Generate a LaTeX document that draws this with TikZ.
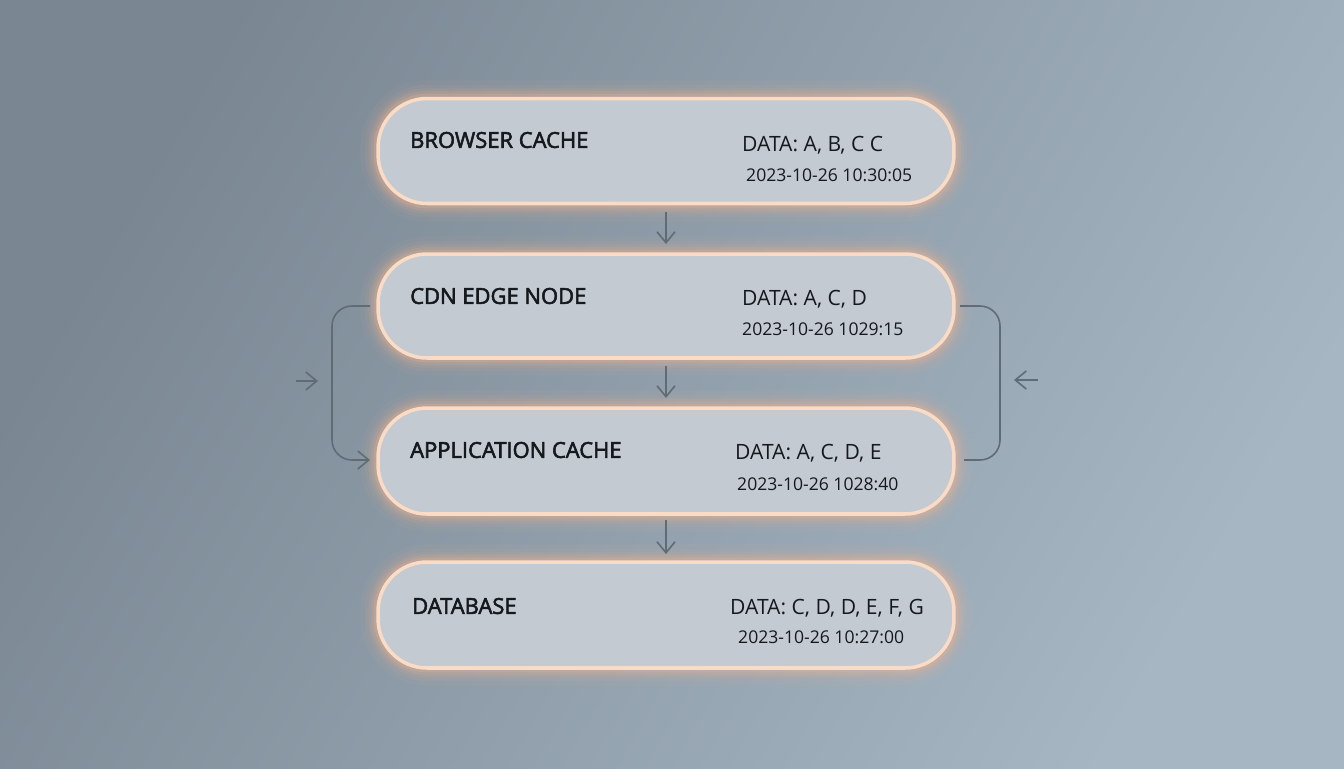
\documentclass[tikz,border=0pt]{standalone}
\usepackage{fontspec}
\setmainfont{Open Sans}
\newfontfamily\ttlfont[FakeBold=2.5]{Open Sans}
\usetikzlibrary{arrows.meta}
\definecolor{bgA}{HTML}{7A8793}
\definecolor{bgB}{HTML}{A6B6C3}
\definecolor{boxfill}{HTML}{C3CAD1}
\definecolor{glow}{HTML}{F7B58E}
\definecolor{edge}{HTML}{FADBC6}
\definecolor{conn}{HTML}{5F6B75}
\definecolor{txt}{HTML}{15191D}
\tikzset{
  layer/.style={rounded corners=0.98cm, fill=boxfill, minimum width=11.52cm, minimum height=2.1cm, draw=edge, line width=2pt, inner sep=0pt},
  ttl/.style={font=\fontsize{12.5}{14}\selectfont\ttlfont, text=txt, anchor=west},
  dat/.style={font=\fontsize{12}{14}\selectfont, text=txt, anchor=west},
  tim/.style={font=\fontsize{10}{12}\selectfont, text=txt, anchor=west},
  conline/.style={draw=conn, line width=0.9pt, rounded corners=0.4cm},
  tip/.style={-{Straight Barb[length=2.2mm,width=3.6mm]}},
}
\newcommand{\glowbox}[2]{%
  \foreach \w/\o in {20/0.05,15/0.07,11/0.1,8/0.14,5/0.22}{
    \draw[glow, line width=\w pt, opacity=\o, rounded corners=0.98cm] (#1) rectangle (#2);}
}
\begin{document}
\begin{tikzpicture}[x=0.02cm,y=-0.02cm]
\useasboundingbox (0,0) rectangle (1344,768);
\shade[left color=bgA, right color=bgB, shading angle=60] (0,0) rectangle (1344,768);
% glows
\glowbox{378,98}{954,204}
\glowbox{378,254}{954,358}
\glowbox{378,408}{954,514}
\glowbox{378,562}{954,668}
\node[layer] (b) at (666,151) {};
\node[layer, minimum height=2.08cm] (c) at (666,306) {};
\node[layer, minimum height=2.12cm] (a) at (666,461) {};
\node[layer, minimum height=2.12cm] (d) at (666,615) {};
% texts
\node[ttl] (bt) at (404,140) {BROWSER CACHE};
\node[dat] (bd) at (736,145) {DATA: A, B, C C};
\node[tim] (bs) at (740,175) {2023-10-26 10:30:05};
\node[ttl] (ct) at (404,296) {CDN EDGE NODE};
\node[dat] (cd) at (736,299) {DATA: A, C, D};
\node[tim] (cs) at (736,329) {2023-10-26 1029:15};
\node[ttl] (at) at (404,450) {APPLICATION CACHE};
\node[dat] (ad) at (729,453) {DATA: A, C, D, E};
\node[tim] (as) at (731,484) {2023-10-26 1028:40};
\node[ttl] (dt) at (406,606) {DATABASE};
\node[dat] (dd) at (724,608) {DATA: C, D, D, E, F, G};
\node[tim] (ds) at (732,637) {2023-10-26 10:27:00};
% vertical arrows
\coordinate (v1a) at (666,212); \coordinate (v1b) at (666,244);
\coordinate (v2a) at (666,366); \coordinate (v2b) at (666,398);
\coordinate (v3a) at (666,520); \coordinate (v3b) at (666,554);
\draw[conline, tip] (v1a) -- (v1b);
\draw[conline, tip] (v2a) -- (v2b);
\draw[conline, tip] (v3a) -- (v3b);
% side loops
\coordinate (l1) at (370,306); \coordinate (l2) at (370,460);
\draw[conline, tip] (l1) -- (332,306) -- (332,460) -- (l2);
\coordinate (r1) at (960,306); \coordinate (r2) at (964,460);
\draw[conline] (r1) -- (1000,306) -- (1000,460) -- (r2);
\coordinate (fl1) at (296,381); \coordinate (fl2) at (318,381);
\draw[conline, tip] (fl1) -- (fl2);
\coordinate (fr1) at (1038,380); \coordinate (fr2) at (1014,380);
\draw[conline, tip] (fr1) -- (fr2);
\end{tikzpicture}
\end{document}
